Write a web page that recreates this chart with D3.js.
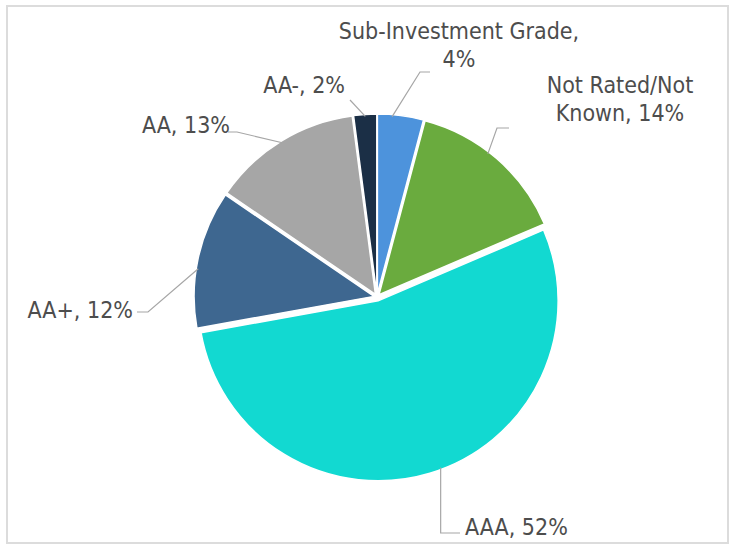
<!DOCTYPE html>
<html>
<head>
<meta charset="utf-8">
<script src="https://cdn.jsdelivr.net/npm/d3@7"></script>
<style>
  html, body { margin: 0; padding: 0; background: #fff; }
  svg { display: block; }
  .lbl { font-family: "DejaVu Sans", sans-serif; font-stretch: condensed; font-size: 23px; fill: #4d4d4d; }
</style>
</head>
<body>
<svg id="chart" width="735" height="550"></svg>
<script>
// Credit rating breakdown (percent of portfolio)
const categories = ["Sub-Investment Grade", "Not Rated/Not Known", "AAA", "AA+", "AA", "AA-"];
const shares = [4, 14, 52, 12, 13, 2];
const labelLines = [
  ["Sub-Investment Grade,", "4%"],
  ["Not Rated/Not", "Known, 14%"],
  ["AAA, 52%"],
  ["AA+, 12%"],
  ["AA, 13%"],
  ["AA-, 2%"]
];
const colors = ["#4d93dc", "#6aab3e", "#12d9d1", "#3e6790", "#a6a6a6", "#1b2f46"];

// label placement relative to the pie centre:
// t = where along the slice the leader leaves the rim (0 = start edge, 1 = end edge),
// elbow / end = the leader's bend and end points (elbow x null = drop straight down)
const labelLayout = [
  { x: 82,   y: -258, anchor: "middle", t: 0.32, elbow: [43, -225],   end: [53, -225] },
  { x: 243,  y: -204, anchor: "middle", t: 0.44, elbow: [120, -169],  end: [132, -169] },
  { x: 88,   y: 238,  anchor: "start",  t: 0.48, elbow: [null, 236],  end: [83, 236] },
  { x: -244, y: 21,   anchor: "end",    t: 0.43, elbow: [-229, 15],   end: [-240, 15] },
  { x: -147, y: -164, anchor: "end",    t: 0.5,  elbow: [-140, -165], end: [-149, -165] },
  { x: -32,  y: -204, anchor: "end",    t: 0.5,  elbow: [-27, -197],  end: [-27, -197] }
];

const svg = d3.select("#chart");

// chart frame
svg.append("rect")
  .attr("x", 7).attr("y", 6).attr("width", 721).attr("height", 537)
  .attr("fill", "#fff").attr("stroke", "#dcdcdc").attr("stroke-width", 2);

const cx = 377, cy = 297, R = 180, explode = 3;

const pie = d3.pie().value(d => d).sort(null);
const arcs = pie(shares);
const arc = d3.arc().innerRadius(0).outerRadius(R);

const g = svg.append("g").attr("transform", `translate(${cx},${cy})`);

const offset = d => {
  const a = (d.startAngle + d.endAngle) / 2;
  const e = d.index === 2 ? explode + 1 : explode;
  return [Math.sin(a) * e, -Math.cos(a) * e];
};

g.selectAll("path.slice")
  .data(arcs)
  .join("path")
  .attr("class", "slice")
  .attr("d", arc)
  .attr("transform", d => { const o = offset(d); return `translate(${o[0]},${o[1]})`; })
  .attr("fill", (d, i) => colors[i])
  .attr("stroke", "#fff")
  .attr("stroke-width", 1.5);

// leader lines
g.selectAll("polyline.leader")
  .data(arcs)
  .join("polyline")
  .attr("class", "leader")
  .attr("fill", "none")
  .attr("stroke", "#a6a6a6")
  .attr("stroke-width", 1.2)
  .attr("points", d => {
    const L = labelLayout[d.index];
    const a = d.startAngle + (d.endAngle - d.startAngle) * L.t;
    const o = offset(d);
    const p0 = [Math.sin(a) * (R - 2) + o[0], -Math.cos(a) * (R - 2) + o[1]];
    const p1 = [L.elbow[0] === null ? p0[0] : L.elbow[0], L.elbow[1]];
    const p2 = L.end;
    return [p0, p1, p2].map(p => p.join(",")).join(" ");
  });

// labels
const lineH = 28;
g.selectAll("text.lbl")
  .data(arcs)
  .join("text")
  .attr("class", "lbl")
  .attr("text-anchor", d => labelLayout[d.index].anchor)
  .attr("x", d => labelLayout[d.index].x)
  .attr("y", d => labelLayout[d.index].y)
  .each(function(d) {
    const L = labelLayout[d.index];
    d3.select(this).selectAll("tspan")
      .data(labelLines[d.index])
      .join("tspan")
      .attr("x", L.x)
      .attr("dy", (t, j) => j === 0 ? 0 : lineH)
      .text(t => t);
  });
</script>
</body>
</html>
